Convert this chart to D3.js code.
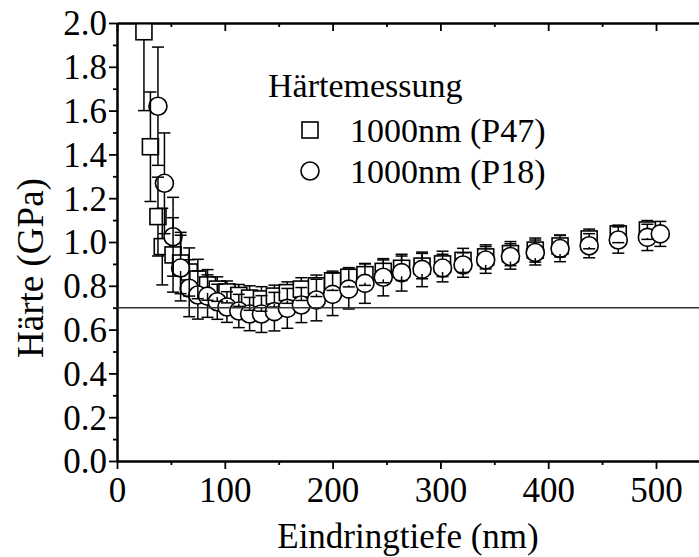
<!DOCTYPE html>
<html>
<head>
<meta charset="utf-8">
<script src="https://cdn.jsdelivr.net/npm/d3@7"></script>
<style>
  html, body { margin: 0; padding: 0; background: #fff; }
  svg { display: block; }
  text { font-family: "Liberation Serif", "Times New Roman", serif; fill: #000; }
</style>
</head>
<body>
<svg id="chart" width="699" height="557"></svg>
<script>
// Indentation depth (nm), hardness (GPa) and standard deviation for sample P47
const depthP47 = [25, 31, 38, 42, 52, 59, 67, 75, 84, 93, 102, 113, 123, 134, 146, 158, 171, 185, 200, 215, 230, 247, 264, 283, 302, 321, 342, 365, 388, 411, 438, 465, 492];
const hardP47  = [1.960, 1.435, 1.116, 0.979, 0.941, 0.904, 0.863, 0.831, 0.804, 0.785, 0.772, 0.756, 0.744, 0.740, 0.753, 0.769, 0.785, 0.800, 0.823, 0.839, 0.851, 0.866, 0.880, 0.890, 0.900, 0.916, 0.932, 0.947, 0.963, 0.982, 1.014, 1.037, 1.055];
const errP47   = [0.36, 0.25, 0.18, 0.175, 0.17, 0.14, 0.11, 0.09, 0.07, 0.056, 0.05, 0.05, 0.056, 0.056, 0.05, 0.049, 0.052, 0.049, 0.044, 0.044, 0.049, 0.052, 0.056, 0.058, 0.058, 0.055, 0.055, 0.055, 0.055, 0.05, 0.045, 0.04, 0.043];

// Indentation depth (nm), hardness (GPa) and standard deviation for sample P18
const depthP18 = [38, 44, 52, 59, 67, 75, 84, 93, 102, 113, 123, 134, 146, 158, 171, 185, 200, 215, 230, 247, 264, 283, 302, 321, 342, 365, 388, 411, 438, 465, 492, 504];
const hardP18  = [1.620, 1.268, 1.024, 0.881, 0.789, 0.758, 0.753, 0.727, 0.703, 0.685, 0.671, 0.671, 0.682, 0.697, 0.712, 0.735, 0.761, 0.785, 0.811, 0.839, 0.860, 0.875, 0.881, 0.895, 0.918, 0.934, 0.952, 0.970, 0.983, 1.009, 1.021, 1.037];
const errP18   = [0.27, 0.23, 0.18, 0.15, 0.13, 0.11, 0.097, 0.08, 0.07, 0.076, 0.076, 0.084, 0.088, 0.091, 0.08, 0.095, 0.097, 0.091, 0.091, 0.085, 0.084, 0.079, 0.063, 0.056, 0.061, 0.058, 0.057, 0.06, 0.055, 0.06, 0.06, 0.057];

// Reference hardness level (GPa)
const refLevel = 0.7;

// Axis ticks and labels
const xMajorTicks = [0, 100, 200, 300, 400, 500];
const xMinorTicks = [50, 150, 250, 350, 450, 550];
const yMajorTicks = [0.0, 0.2, 0.4, 0.6, 0.8, 1.0, 1.2, 1.4, 1.6, 1.8, 2.0];
const yMinorTicks = [0.1, 0.3, 0.5, 0.7, 0.9, 1.1, 1.3, 1.5, 1.7, 1.9];

const legendTitle = "Härtemessung";
const seriesNames = ["1000nm (P47)", "1000nm (P18)"];
const xTitle = "Eindringtiefe (nm)";
const yTitle = "Härte (GPa)";

const svg = d3.select("#chart");
const plotLeft = 117, plotTop = 23, plotBottom = 461;
const x = d3.scaleLinear().domain([0, 550]).range([plotLeft, plotLeft + 550 * 1.078]);
const y = d3.scaleLinear().domain([0, 2]).range([plotBottom, plotTop]);
const plotRight = x(550);

const fmt = d3.format(".1f");
const tickFont = 35, titleFont = 35, yTitleFont = 37, legendFont = 34;

// Clip data marks to the frame
svg.append("defs").append("clipPath").attr("id", "plotclip")
  .append("rect").attr("x", plotLeft).attr("y", plotTop)
  .attr("width", plotRight - plotLeft).attr("height", plotBottom - plotTop);

// Axes (bottom: labelled, ticks out; left: labelled, ticks out; top: ticks in)
const axisG = svg.append("g");
const bottomAxis = d3.axisBottom(x).tickValues(xMajorTicks).tickSize(8).tickSizeOuter(0).tickFormat(d3.format("d"));
const bottomMinor = d3.axisBottom(x).tickValues(xMinorTicks).tickSize(4).tickSizeOuter(0).tickFormat("");
const leftAxis = d3.axisLeft(y).tickValues(yMajorTicks).tickSize(8).tickSizeOuter(0).tickFormat(fmt);
const leftMinor = d3.axisLeft(y).tickValues(yMinorTicks).tickSize(4).tickSizeOuter(0).tickFormat("");
const topAxis = d3.axisBottom(x).tickValues(xMajorTicks).tickSize(8).tickSizeOuter(0).tickFormat("");
const topMinor = d3.axisBottom(x).tickValues(xMinorTicks).tickSize(4).tickSizeOuter(0).tickFormat("");

function styleAxis(g) {
  g.selectAll("path").attr("stroke", "#000").attr("stroke-width", 2);
  g.selectAll("line").attr("stroke", "#000").attr("stroke-width", 1.8);
  g.selectAll("text").attr("font-family", "Liberation Serif").attr("font-size", tickFont).attr("fill", "#000");
}

axisG.append("g").attr("transform", `translate(0,${plotBottom})`).call(bottomAxis).call(styleAxis)
  .selectAll("text").attr("y", 0).attr("dy", 0).attr("transform", "translate(0,41)");
axisG.append("g").attr("transform", `translate(0,${plotBottom})`).call(bottomMinor).call(styleAxis);
axisG.append("g").attr("transform", `translate(${plotLeft},0)`).call(leftAxis).call(styleAxis)
  .selectAll("text").attr("x", -10).attr("dy", "0.34em");
axisG.append("g").attr("transform", `translate(${plotLeft},0)`).call(leftMinor).call(styleAxis);
axisG.append("g").attr("transform", `translate(0,${plotTop})`).call(topAxis).call(styleAxis);
axisG.append("g").attr("transform", `translate(0,${plotTop})`).call(topMinor).call(styleAxis);

// Axis titles
svg.append("text").attr("x", (plotLeft + 699) / 2).attr("y", 548)
  .attr("text-anchor", "middle").attr("font-size", titleFont).text(xTitle);
svg.append("text").attr("transform", `translate(43,268) rotate(-90)`)
  .attr("text-anchor", "middle").attr("font-size", yTitleFont).text(yTitle);

// Data layers
const plot = svg.append("g").attr("clip-path", "url(#plotclip)");

const sqHalf = 8, circR = 9, capHalf = 6;

const p47 = depthP47.map((d, i) => ({ x: d, y: hardP47[i], e: errP47[i], gap: sqHalf }));
const p18 = depthP18.map((d, i) => ({ x: d, y: hardP18[i], e: errP18[i], gap: circR }));

plot.append("g").selectAll("rect").data(p47).join("rect")
  .attr("x", d => x(d.x) - sqHalf).attr("y", d => y(d.y) - sqHalf)
  .attr("width", 2 * sqHalf).attr("height", 2 * sqHalf)
  .attr("fill", "#fff").attr("stroke", "#000").attr("stroke-width", 1.6);

plot.append("g").selectAll("circle").data(p18).join("circle")
  .attr("cx", d => x(d.x)).attr("cy", d => y(d.y)).attr("r", circR)
  .attr("fill", "#fff").attr("stroke", "#000").attr("stroke-width", 1.6);

// Error bars start at the marker edge and end in a cap
function drawErrors(data) {
  const g = plot.append("g").attr("stroke", "#000").attr("stroke-width", 1.5).attr("fill", "none");
  data.forEach(d => {
    const cx = x(d.x), cy = y(d.y);
    const yUp = y(d.y + d.e), yLo = y(d.y - d.e);
    if (cy - yUp > d.gap) {
      g.append("line").attr("x1", cx).attr("x2", cx).attr("y1", cy - d.gap).attr("y2", yUp);
      g.append("line").attr("x1", cx - capHalf).attr("x2", cx + capHalf).attr("y1", yUp).attr("y2", yUp);
    }
    if (yLo - cy > d.gap) {
      g.append("line").attr("x1", cx).attr("x2", cx).attr("y1", cy + d.gap).attr("y2", yLo);
      g.append("line").attr("x1", cx - capHalf).attr("x2", cx + capHalf).attr("y1", yLo).attr("y2", yLo);
    }
  });
}
drawErrors(p47);
drawErrors(p18);

// Reference level line
svg.append("line").attr("x1", plotLeft).attr("x2", 699).attr("y1", y(refLevel)).attr("y2", y(refLevel))
  .attr("stroke", "#333").attr("stroke-width", 1.6);

// Legend
const lg = svg.append("g");
lg.append("text").attr("x", 268).attr("y", 97).attr("font-size", legendFont).text(legendTitle);
lg.append("rect").attr("x", 310 - sqHalf).attr("y", 130 - sqHalf).attr("width", 2 * sqHalf).attr("height", 2 * sqHalf)
  .attr("fill", "#fff").attr("stroke", "#000").attr("stroke-width", 1.6);
lg.append("text").attr("x", 350).attr("y", 142).attr("font-size", legendFont).text(seriesNames[0]);
lg.append("circle").attr("cx", 310).attr("cy", 171).attr("r", circR)
  .attr("fill", "#fff").attr("stroke", "#000").attr("stroke-width", 1.6);
lg.append("text").attr("x", 350).attr("y", 183).attr("font-size", legendFont).text(seriesNames[1]);
</script>
</body>
</html>
